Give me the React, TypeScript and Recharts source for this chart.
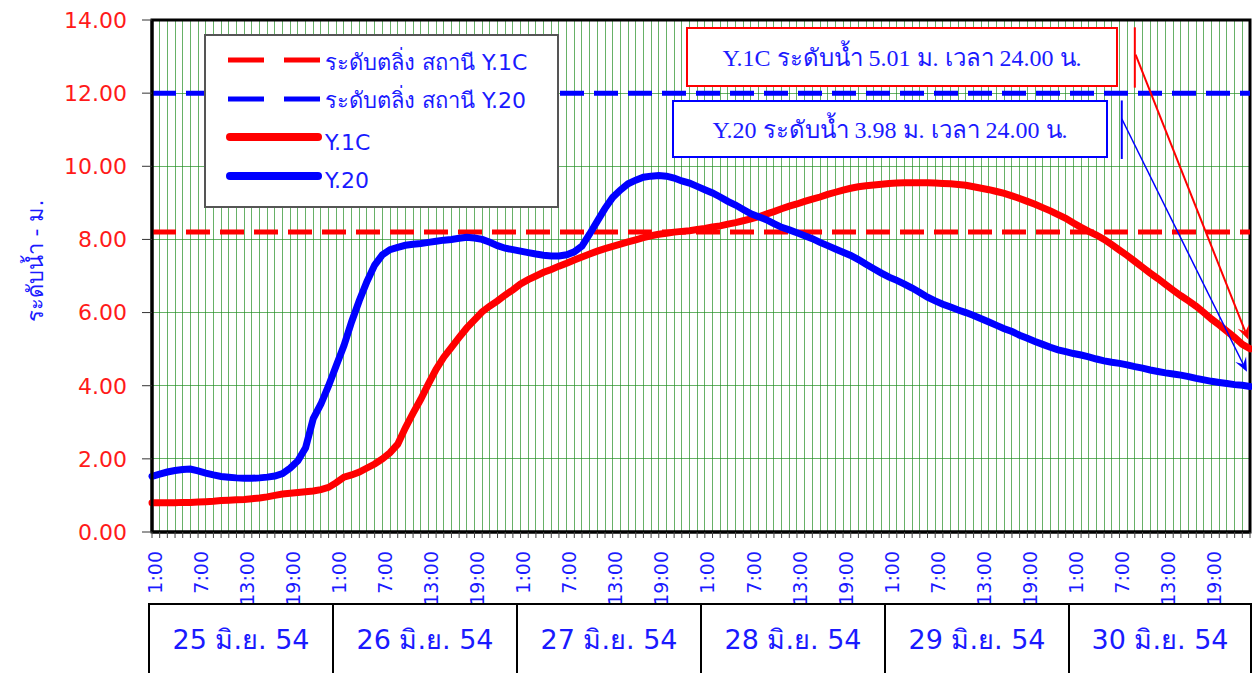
import { LineChart, Line, XAxis, YAxis, CartesianGrid, ReferenceLine, ReferenceArea, Label } from "recharts";

const hourLabels = [
  "1:00", "2:00", "3:00", "4:00", "5:00", "6:00", "7:00", "8:00", "9:00", "10:00", "11:00", "12:00",
  "13:00", "14:00", "15:00", "16:00", "17:00", "18:00", "19:00", "20:00", "21:00", "22:00", "23:00", "24:00",
];
const shownHours = ["1:00", "7:00", "13:00", "19:00"];
const dayLabels = ["25 มิ.ย. 54", "26 มิ.ย. 54", "27 มิ.ย. 54", "28 มิ.ย. 54", "29 มิ.ย. 54", "30 มิ.ย. 54"];
const yTicks = [0, 2, 4, 6, 8, 10, 12, 14];

// hourly water level (m), 25-30 June
const y1cLevels = [
  0.8, 0.8, 0.8, 0.8, 0.81, 0.81, 0.82, 0.83, 0.84, 0.86, 0.87, 0.88,
  0.89, 0.91, 0.93, 0.96, 1.0, 1.04, 1.06, 1.08, 1.1, 1.12, 1.16, 1.22,
  1.35, 1.5, 1.56, 1.64, 1.75, 1.86, 2.0, 2.17, 2.4, 2.85, 3.25, 3.63,
  4.05, 4.45, 4.78, 5.05, 5.32, 5.58, 5.8, 6.02, 6.18, 6.32, 6.48, 6.62,
  6.78, 6.9, 7.0, 7.1, 7.18, 7.27, 7.35, 7.44, 7.52, 7.6, 7.68, 7.75,
  7.81, 7.87, 7.93, 7.99, 8.05, 8.1, 8.14, 8.17, 8.2, 8.22, 8.24, 8.27,
  8.3, 8.34, 8.37, 8.42, 8.46, 8.51, 8.56, 8.62, 8.69, 8.76, 8.84, 8.91,
  8.97, 9.04, 9.1, 9.16, 9.23, 9.29, 9.35, 9.4, 9.44, 9.47, 9.49, 9.51,
  9.53, 9.54, 9.55, 9.55, 9.55, 9.55, 9.54, 9.53, 9.52, 9.5, 9.48, 9.44,
  9.4, 9.36, 9.31, 9.26, 9.19, 9.12, 9.04, 8.96, 8.87, 8.78, 8.68, 8.58,
  8.45, 8.33, 8.22, 8.12, 8.0, 7.86, 7.71, 7.56, 7.4, 7.24, 7.08, 6.93,
  6.77, 6.61, 6.46, 6.32, 6.17, 6.0, 5.82, 5.66, 5.49, 5.32, 5.13, 5.01,
];

const y20Levels = [
  1.52, 1.58, 1.64, 1.68, 1.71, 1.72, 1.67, 1.61, 1.56, 1.52, 1.5, 1.48,
  1.47, 1.47, 1.48, 1.5, 1.53, 1.6, 1.75, 1.95, 2.3, 3.1, 3.5, 4.0,
  4.55, 5.1, 5.75, 6.33, 6.85, 7.3, 7.58, 7.72, 7.78, 7.84, 7.87, 7.89,
  7.92, 7.95, 7.98, 8.0, 8.03, 8.06, 8.04, 8.0, 7.92, 7.83, 7.76, 7.72,
  7.68, 7.64, 7.6, 7.57, 7.55, 7.55, 7.58, 7.66, 7.82, 8.15, 8.5, 8.85,
  9.15, 9.35, 9.52, 9.62, 9.7, 9.73, 9.75, 9.73, 9.68, 9.6, 9.54, 9.45,
  9.36, 9.27, 9.16, 9.04, 8.94, 8.82, 8.7, 8.62, 8.54, 8.43, 8.33, 8.26,
  8.18, 8.1, 8.02, 7.92, 7.83, 7.74, 7.65, 7.56, 7.45, 7.32, 7.2, 7.08,
  6.97, 6.88, 6.78, 6.67, 6.55, 6.42, 6.32, 6.23, 6.15, 6.07, 6.0, 5.92,
  5.83, 5.74, 5.65, 5.56, 5.48, 5.38, 5.3, 5.21, 5.13, 5.05, 4.98, 4.93,
  4.88, 4.84, 4.79, 4.73, 4.68, 4.64, 4.61, 4.57, 4.52, 4.48, 4.43, 4.39,
  4.35, 4.32, 4.29, 4.25, 4.2, 4.16, 4.12, 4.09, 4.06, 4.03, 4.01, 3.98,
];

const bankY1C = 8.2;
const bankY20 = 12.0;

const BLUE_TEXT = "#1a1aff";
const SANS = "Tahoma, 'DejaVu Sans', sans-serif";

const data = y1cLevels.map((v, i) => ({
  t: i,
  hour: hourLabels[i % 24],
  y1c: v,
  y20: y20Levels[i],
}));
const lastIdx = data.length - 1;

function HourTick(props: any) {
  const { x, y, payload } = props;
  const label = hourLabels[payload.value % 24];
  if (!shownHours.includes(label)) return <g />;
  const tx = x + 3;
  const ty = y + 11;
  return (
    <text
      x={tx}
      y={ty}
      transform={`rotate(-90, ${tx}, ${ty})`}
      textAnchor="end"
      dy="0.35em"
      fill={BLUE_TEXT}
      fontSize={19}
      fontFamily={SANS}
    >
      {label}
    </text>
  );
}

// line with a stealth arrowhead at its end
const arrowShape = (color: string, width: number) => (p: any) => {
  const { x1, y1, x2, y2 } = p;
  const a = Math.atan2(y2 - y1, x2 - x1);
  const c = Math.cos(a);
  const s = Math.sin(a);
  const L = 14;
  const W = 6;
  const bx = x2 - L * c;
  const by = y2 - L * s;
  const nx = x2 - L * 0.6 * c;
  const ny = y2 - L * 0.6 * s;
  const d = `M${x2},${y2} L${bx - s * W},${by + c * W} L${nx},${ny} L${bx + s * W},${by - c * W} Z`;
  return (
    <g>
      <line x1={x1} y1={y1} x2={nx} y2={ny} stroke={color} strokeWidth={width} />
      <path d={d} fill={color} />
    </g>
  );
};

const legendItems = [
  { label: "ระดับตลิ่ง สถานี Y.1C", color: "#ff0000", dashed: true },
  { label: "ระดับตลิ่ง สถานี Y.20", color: "#0000ff", dashed: true },
  { label: "Y.1C", color: "#ff0000", dashed: false },
  { label: "Y.20", color: "#0000ff", dashed: false },
];

function LegendBox() {
  return (
    <div
      style={{
        position: "absolute",
        left: 204,
        top: 34,
        width: 351,
        height: 170,
        background: "#fff",
        border: "2px solid #555",
        fontFamily: SANS,
      }}
    >
      {legendItems.map((it, k) => (
        <div key={it.label} style={{ position: "absolute", left: 20, top: 9 + k * 38.5, height: 30, display: "flex", alignItems: "center" }}>
          <svg width={96} height={14}>
            <line
              x1={it.dashed ? 2 : 4}
              x2={it.dashed ? 94 : 92}
              y1={7}
              y2={7}
              stroke={it.color}
              strokeWidth={it.dashed ? 5 : 8}
              strokeDasharray={it.dashed ? "36 20" : undefined}
              strokeLinecap={it.dashed ? "butt" : "round"}
            />
          </svg>
          <span style={{ color: BLUE_TEXT, fontSize: 22, marginLeft: 3, marginTop: it.dashed ? 4 : 10, whiteSpace: "nowrap" }}>{it.label}</span>
        </div>
      ))}
    </div>
  );
}

const noteBoxes = [
  { text: "Y.1C ระดับน้ำ 5.01 ม. เวลา 24.00 น.", color: "#ff0000", left: 686, top: 27, width: 432, height: 60 },
  { text: "Y.20 ระดับน้ำ 3.98 ม. เวลา 24.00 น.", color: "#0000ff", left: 672, top: 100, width: 436, height: 58 },
];

export default function App() {
  return (
    <div style={{ position: "fixed", left: 0, top: 0, width: 1252, height: 673, background: "#fff", overflow: "hidden" }}>
      <LineChart width={1252} height={673} data={data} margin={{ top: 20, right: 2, bottom: 71, left: 22 }}>
        <CartesianGrid stroke="#1f8c1f" strokeOpacity={0.68} strokeWidth={1} shapeRendering="crispEdges" />
        <XAxis
          dataKey="t"
          type="number"
          domain={[0, lastIdx]}
          ticks={data.map((d) => d.t)}
          interval={0}
          tick={<HourTick />}
          tickSize={6}
          tickLine={{ stroke: "#444" }}
          axisLine={{ stroke: "#000", strokeWidth: 3 }}
          height={70}
        />
        <YAxis
          domain={[0, 14]}
          ticks={yTicks}
          tickFormatter={(v: number) => v.toFixed(2)}
          tick={{ fill: "#ff1a1a", fontSize: 22, fontFamily: SANS }}
          tickSize={10}
          tickMargin={15}
          tickLine={{ stroke: "#333" }}
          axisLine={{ stroke: "#000", strokeWidth: 3 }}
          width={130}
          allowDataOverflow
        >
          <Label
            content={(p: any) => {
              const vb = p.viewBox;
              const cx = vb.x + 13;
              const cy = vb.y + vb.height / 2 - 15;
              return (
                <text x={cx} y={cy} transform={`rotate(-90, ${cx}, ${cy})`} textAnchor="middle" dy="0.35em" fill={BLUE_TEXT} fontSize={22} fontFamily={SANS}>
                  ระดับน้ำ - ม.
                </text>
              );
            }}
          />
        </YAxis>
        <ReferenceLine y={bankY1C} stroke="#ff0000" strokeWidth={5} strokeDasharray="24 10" />
        <ReferenceLine y={bankY20} stroke="#0000ff" strokeWidth={5} strokeDasharray="24 10" />
        <Line type="linear" dataKey="y1c" stroke="#ff0000" strokeWidth={7} strokeLinecap="round" dot={false} isAnimationActive={false} />
        <Line type="linear" dataKey="y20" stroke="#0000ff" strokeWidth={7} strokeLinecap="round" dot={false} isAnimationActive={false} />
        <ReferenceLine segment={[{ x: 128, y: 13.8 }, { x: 128, y: 12.15 }]} stroke="#ff0000" strokeWidth={2} />
        <ReferenceLine
          segment={[{ x: 128.1, y: 13.05 }, { x: lastIdx - 0.2, y: y1cLevels[lastIdx] + 0.25 }]}
          shape={arrowShape("#ff0000", 2)}
        />
        <ReferenceLine segment={[{ x: 126.3, y: 11.8 }, { x: 126.3, y: 10.2 }]} stroke="#0000ff" strokeWidth={2} />
        <ReferenceLine
          segment={[{ x: 126.3, y: 11.3 }, { x: lastIdx - 0.4, y: y20Levels[lastIdx] + 0.4 }]}
          shape={arrowShape("#0000ff", 1.5)}
        />
        <ReferenceArea x1={0} x2={lastIdx} y1={0} y2={14} fill="none" stroke="#000" strokeWidth={3} ifOverflow="visible" />
      </LineChart>

      <LegendBox />

      {noteBoxes.map((b) => (
        <div
          key={b.text}
          style={{
            position: "absolute",
            left: b.left,
            top: b.top,
            width: b.width - 4,
            height: b.height - 4,
            border: `2px solid ${b.color}`,
            background: "#fff",
            display: "flex",
            alignItems: "center",
            justifyContent: "center",
            fontFamily: "'Liberation Serif', 'Times New Roman', serif",
            fontSize: 24,
            color: BLUE_TEXT,
            whiteSpace: "nowrap",
          }}
        >
          {b.text}
        </div>
      ))}

      {dayLabels.map((d, k) => (
        <div
          key={d}
          style={{
            position: "absolute",
            left: 148 + k * 184,
            top: 603,
            width: 184,
            height: 90,
            boxSizing: "border-box",
            borderTop: "2px solid #000",
            borderLeft: "2px solid #000",
            borderRight: k === dayLabels.length - 1 ? "2px solid #000" : "none",
            background: "#fff",
            color: BLUE_TEXT,
            fontFamily: SANS,
            fontSize: 27,
            textAlign: "center",
            paddingTop: 13,
          }}
        >
          {d}
        </div>
      ))}
    </div>
  );
}
